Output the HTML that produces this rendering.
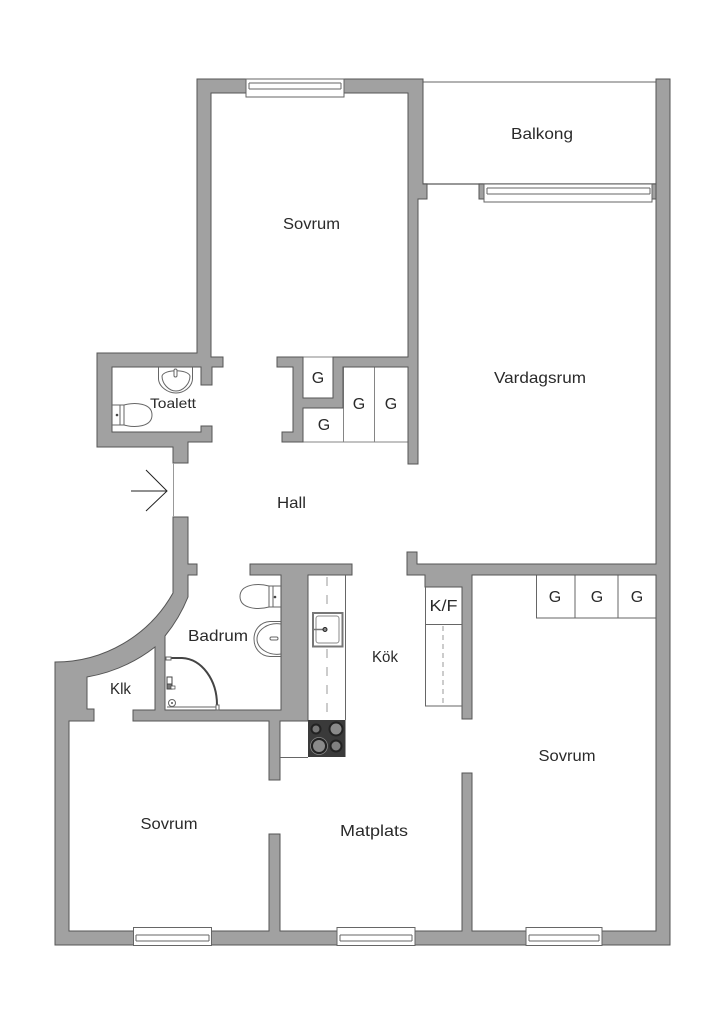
<!DOCTYPE html>
<html>
<head>
<meta charset="utf-8">
<style>
html,body{margin:0;padding:0;background:#fff;width:724px;height:1024px;overflow:hidden}
svg{display:block}
text{font-family:"Liberation Sans",sans-serif;font-size:16px;fill:#2a2a2a;text-anchor:middle}
.w{fill:#a1a1a1;stroke:#555;stroke-width:1}
.l{fill:none;stroke:#666;stroke-width:1}
.f{fill:#fff;stroke:#666;stroke-width:1}
</style>
</head>
<body>
<svg width="724" height="1024" viewBox="0 0 724 1024" xmlns="http://www.w3.org/2000/svg">
<rect width="724" height="1024" fill="#fff"/>

<!-- closets and balcony lines -->
<path class="l" d="M303 442H408M343.500 367V442M374.500 367V442M303 398H333M303 357H333" stroke-opacity=".8"/>
<path class="l" d="M536.500 575V618H656M575 575V618M618 575V618"/>
<path class="l" d="M423 82H656"/>
<path d="M423 184H656" stroke="#777" stroke-width="1.500"/>

<!-- walls -->
<path class="w" d="M197 79H423V184H427V199H418V464H408V367H343V408H303V442H282V432H293V367H277V357H303V398H333V357H408V93H211V357H223V367H212V385H201V367H112V432H201V426H212V442H188V463H173V447H97V353H197Z"/>
<path class="w" d="M173 517H188V564H197V575H188V597A150 150 0 0 1 165 636V710H281V575H250V564H352V575H308V721H280V780H269V721H133V710H155V647A153 153 0 0 1 87 677V709H94V721H69V931H269V834H280V931H462V773H472V931H656V575H472V719H462V587H425V575H407V552H417V564H656V79H670V945H55V662A135 135 0 0 0 173 593Z"/>
<rect class="w" x="479" y="184" width="6" height="15"/>
<rect class="w" x="652" y="184" width="4" height="15"/>

<!-- windows -->
<g>
<rect class="f" x="246" y="79" width="98" height="18"/>
<path class="l" d="M249 83H341M249 89H341M249 83V89M341 83V89"/>
<rect class="f" x="484" y="184" width="168" height="18"/>
<path class="l" d="M487 188H650M487 194H650M487 188V194M650 188V194"/>
<rect class="f" x="133.500" y="927.500" width="78" height="18"/>
<path class="l" d="M136 935H209M136 941H209M136 935V941M209 935V941"/>
<rect class="f" x="337" y="927.500" width="78" height="18"/>
<path class="l" d="M340 935H412M340 941H412M340 935V941M412 935V941"/>
<rect class="f" x="526" y="927.500" width="76" height="18"/>
<path class="l" d="M529 935H599M529 941H599M529 935V941M599 935V941"/>
</g>

<!-- entry door and arrow -->
<path d="M173.500 463V517" stroke="#999" stroke-width="1"/>
<path d="M131 491H167M146 470L167 491L146 511" fill="none" stroke="#222" stroke-width="1"/>

<!-- toalett -->
<path class="l" d="M158.500 367V379C159 387 168 393 176 393C184 393 192 387 192.500 379V367"/>
<path class="l" d="M162 376C164 369 188 369 190 376C190 384 183 391 176 391C169 391 162 384 162 376Z"/>
<rect x="174" y="369" width="3" height="8" rx="1.500" class="f"/>
<path class="l" d="M112 405H124C135 402 152 403 152 415C152 427 135 428 124 425H112"/>
<path class="l" d="M120 405V425M124 405V425"/>
<circle cx="117" cy="415" r="1.300" fill="#444"/>

<!-- badrum toilet -->
<path class="l" d="M281 586H269C258 583 240 584 240 596.500C240 609 258 610 269 607H281"/>
<path class="l" d="M269 586V607M273 586V607"/>
<circle cx="275" cy="597" r="1.300" fill="#444"/>

<!-- badrum sink -->
<path class="l" d="M281 621.500H270C260 622 254 630 254 639C254 648 260 656 270 656.500H281"/>
<path class="l" d="M281 624C268 622 257 630 257 639C257 648 268 656 281 654"/>
<rect x="270" y="637" width="8" height="3" rx="1.500" class="f"/>

<!-- shower -->
<path d="M167 658H182C202 659 217 680 217 705" fill="none" stroke="#444" stroke-width="2"/>
<path class="l" d="M167 707H218"/>
<rect class="f" x="166" y="657" width="5" height="3"/>
<rect class="f" x="216" y="705" width="3" height="5"/>
<rect x="167" y="677" width="5" height="7" fill="#fff" stroke="#444"/>
<rect x="167" y="684" width="5" height="5" fill="#777" stroke="#444"/>
<rect x="171" y="686" width="4" height="3" fill="#fff" stroke="#444" stroke-width=".7"/>
<circle cx="172" cy="703" r="3.500" class="f"/>
<circle cx="172" cy="703" r="1" fill="#555"/>

<!-- kitchen counter -->
<path class="l" d="M345.500 575V720M280 757.500H308M425.500 587V706H462M425 624.500H462"/>
<path d="M327 577V720" stroke="#aaa" stroke-width="1.200" stroke-dasharray="9 9"/>
<path d="M443 626V704" stroke="#999" stroke-width="1" stroke-dasharray="5 4"/>
<rect x="313" y="613" width="29.500" height="33.500" fill="#fff" stroke="#777" stroke-width="2"/>
<rect x="316" y="616" width="23" height="27" rx="2.500" fill="#fff" stroke="#888" stroke-width="1"/>
<path d="M314 629.500H324" stroke="#777" stroke-width="1.500"/>
<circle cx="325" cy="629.500" r="2" fill="#888" stroke="#222" stroke-width="1"/>

<!-- stove -->
<rect x="308" y="720" width="37.500" height="37" fill="#3a3a3a"/>
<circle cx="316" cy="729" r="5.500" fill="#222"/><circle cx="316" cy="729" r="3.500" fill="#777"/>
<circle cx="336" cy="729" r="7.500" fill="#222"/><circle cx="336" cy="729" r="5.500" fill="#8a8a8a"/>
<circle cx="319" cy="746" r="8.500" fill="#222" stroke="#888" stroke-width=".8"/><circle cx="319" cy="746" r="6" fill="#8a8a8a"/>
<circle cx="336" cy="746" r="6.500" fill="#222"/><circle cx="336" cy="746" r="4.500" fill="#808080"/>

<!-- labels -->
<text x="311.500" y="229" textLength="57" lengthAdjust="spacingAndGlyphs">Sovrum</text>
<text x="542" y="139" textLength="62" lengthAdjust="spacingAndGlyphs">Balkong</text>
<text x="540" y="383" textLength="92" lengthAdjust="spacingAndGlyphs">Vardagsrum</text>
<text x="173" y="408" textLength="46" lengthAdjust="spacingAndGlyphs" style="font-size:14px">Toalett</text>
<text x="291.500" y="508" textLength="29" lengthAdjust="spacingAndGlyphs">Hall</text>
<text x="218" y="641" textLength="60" lengthAdjust="spacingAndGlyphs">Badrum</text>
<text x="385" y="662" textLength="26" lengthAdjust="spacingAndGlyphs" style="font-size:16px">Kök</text>
<text x="120.500" y="694" textLength="21" lengthAdjust="spacingAndGlyphs" style="font-size:16px">Klk</text>
<text x="169" y="829" textLength="57" lengthAdjust="spacingAndGlyphs">Sovrum</text>
<text x="374" y="836" textLength="68" lengthAdjust="spacingAndGlyphs">Matplats</text>
<text x="567" y="761" textLength="57" lengthAdjust="spacingAndGlyphs">Sovrum</text>
<text x="443.500" y="611" textLength="28" lengthAdjust="spacingAndGlyphs">K/F</text>
<text x="318" y="383">G</text>
<text x="324" y="430">G</text>
<text x="359" y="409">G</text>
<text x="391" y="409">G</text>
<text x="555" y="602">G</text>
<text x="597" y="602">G</text>
<text x="637" y="602">G</text>
</svg>
</body>
</html>
